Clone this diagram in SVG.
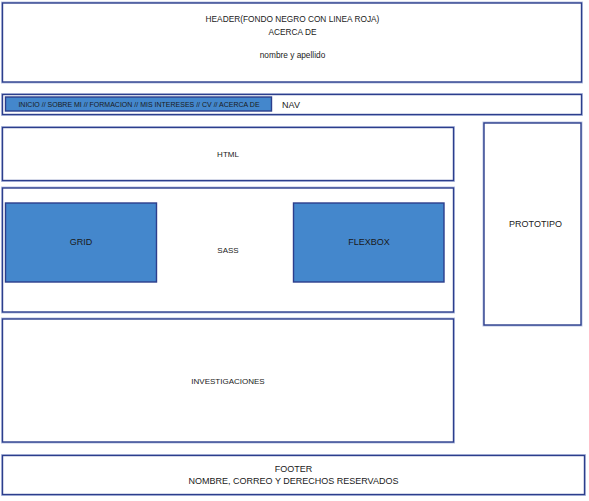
<svg xmlns="http://www.w3.org/2000/svg" width="589" height="501" viewBox="0 0 589 501">
<style>
.box{fill:#ffffff;stroke:#2c3e8c;stroke-width:1.4}
.halo{fill:none;stroke:#b9c3e3;stroke-width:3}
.blue{fill:#4487cc;stroke:#2c3e8c;stroke-width:1.4}
text{font-family:"Liberation Sans",Arial,sans-serif;font-size:8px;fill:#1a1a1a;text-anchor:middle}
.small{font-size:7px}
.mid{font-size:9px}
.hd{font-size:8.3px}
</style>
<rect width="589" height="501" fill="#ffffff"/>
<g id="header">
<rect class="halo" x="2.5" y="3" width="579" height="79"/>
<rect class="box" x="2.5" y="3" width="579" height="79"/>
<text class="hd" x="292.5" y="22">HEADER(FONDO NEGRO CON LINEA ROJA)</text>
<text class="hd" x="292.5" y="35">ACERCA DE</text>
<text class="hd" x="292.5" y="58">nombre y apellido</text>
</g>
<g id="nav">
<rect class="halo" x="2.5" y="94.5" width="579" height="20"/>
<rect class="box" x="2.5" y="94.5" width="579" height="20"/>
<rect class="blue" x="5.5" y="97" width="266" height="14"/>
<text class="small" x="139" y="106.5">INICIO // SOBRE MI // FORMACION // MIS INTERESES // CV // ACERCA DE</text>
<text class="mid" x="291" y="107.5">NAV</text>
</g>
<g id="html">
<rect class="halo" x="2.5" y="127.5" width="451" height="53"/>
<rect class="box" x="2.5" y="127.5" width="451" height="53"/>
<text x="228" y="157">HTML</text>
</g>
<g id="sass">
<rect class="halo" x="2.5" y="188" width="451" height="124"/>
<rect class="box" x="2.5" y="188" width="451" height="124"/>
<text x="228" y="253">SASS</text>
</g>
<g id="grid">
<rect class="blue" x="5.5" y="203" width="151" height="79"/>
<text class="mid" x="81" y="245">GRID</text>
</g>
<g id="flexbox">
<rect class="blue" x="293.5" y="203" width="150.5" height="79"/>
<text class="mid" x="369" y="245">FLEXBOX</text>
</g>
<g id="prototipo">
<rect class="halo" x="484" y="123" width="97" height="202"/>
<rect class="box" x="484" y="123" width="97" height="202"/>
<text class="mid" x="535.5" y="227">PROTOTIPO</text>
</g>
<g id="investigaciones">
<rect class="halo" x="2.5" y="319" width="451" height="123"/>
<rect class="box" x="2.5" y="319" width="451" height="123"/>
<text x="228" y="384">INVESTIGACIONES</text>
</g>
<g id="footer">
<rect class="halo" x="2.5" y="455.5" width="582" height="39"/>
<rect class="box" x="2.5" y="455.5" width="582" height="39"/>
<text class="mid" x="293.5" y="472">FOOTER</text>
<text class="mid" x="293.5" y="484">NOMBRE, CORREO Y DERECHOS RESERVADOS</text>
</g>
<g id="connectors"></g>
</svg>
